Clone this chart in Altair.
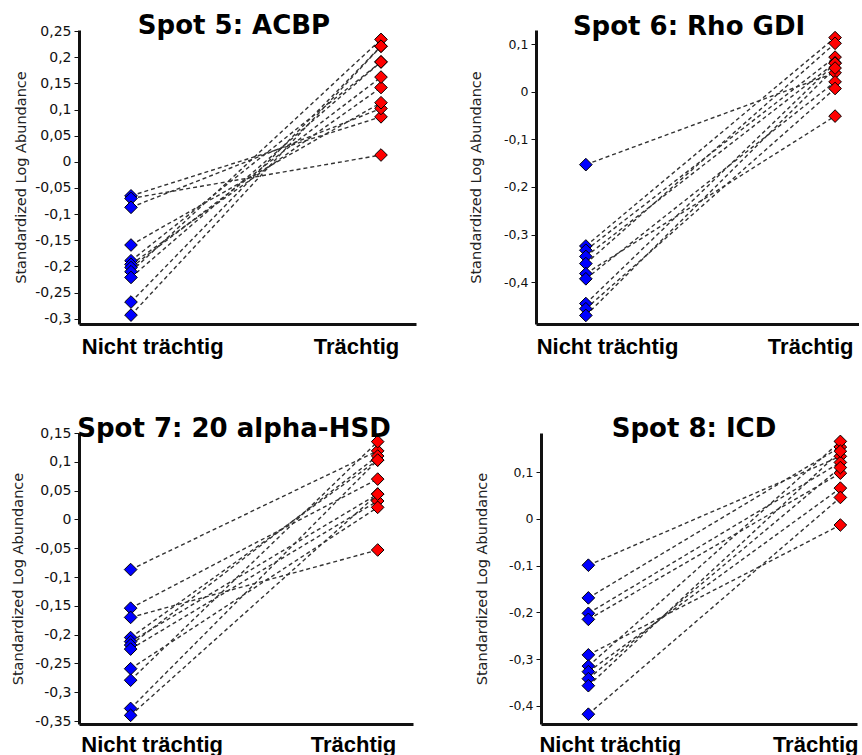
import altair as alt
import pandas as pd

# ---------------- data ----------------
groups = ["Nicht trächtig", "Trächtig"]
y_title = "Standardized Log Abundance"

title_5 = "Spot 5: ACBP"
spot5_nicht = [-0.065, -0.070, -0.087, -0.159, -0.189, -0.196, -0.202, -0.210, -0.221, -0.268, -0.293]
spot5_traechtig = [0.086, 0.013, 0.102, 0.113, 0.191, 0.142, 0.162, 0.234, 0.191, 0.221, 0.221]
ticks_5 = [-0.3, -0.25, -0.2, -0.15, -0.1, -0.05, 0, 0.05, 0.1, 0.15, 0.2, 0.25]

title_6 = "Spot 6: Rho GDI"
spot6_nicht = [-0.153, -0.324, -0.333, -0.346, -0.361, -0.382, -0.393, -0.445, -0.456, -0.470]
spot6_traechtig = [0.040, 0.114, 0.073, 0.061, 0.102, -0.051, 0.021, 0.060, 0.007, 0.050]
ticks_6 = [-0.4, -0.3, -0.2, -0.1, 0, 0.1]

title_7 = "Spot 7: 20 alpha-HSD"
spot7_nicht = [-0.087, -0.154, -0.170, -0.205, -0.212, -0.218, -0.225, -0.259, -0.279, -0.328, -0.340]
spot7_traechtig = [0.119, 0.070, -0.053, 0.103, 0.044, 0.110, 0.032, 0.021, 0.135, 0.103, 0.044]
ticks_7 = [-0.35, -0.3, -0.25, -0.2, -0.15, -0.1, -0.05, 0, 0.05, 0.1, 0.15]

title_8 = "Spot 8: ICD"
spot8_nicht = [-0.099, -0.169, -0.202, -0.215, -0.291, -0.315, -0.327, -0.342, -0.357, -0.418]
spot8_traechtig = [0.134, 0.154, 0.121, 0.098, -0.013, 0.166, 0.066, 0.110, 0.145, 0.046]
ticks_8 = [-0.4, -0.3, -0.2, -0.1, 0, 0.1]

group_colors = ["#0000FF", "#FF0000"]

# ---------------- helpers ----------------
Y_LABEL_EXPR = "replace(replace(format(datum.value, '.2~f'), '.', ','), '\u2212', '-')"
X_LABEL_EXPR = f"datum.value < 0.5 ? '{groups[0]}' : '{groups[1]}'"


def panel(title, nicht, traechtig, yticks, *, width, height, xdom, ydom,
          tick_font, title_x, title_cx, title_by, label_pad):
    rows = []
    for i, (a, b) in enumerate(zip(nicht, traechtig)):
        rows.append({"animal": i, "gx": 0, "group": groups[0], "value": a})
        rows.append({"animal": i, "gx": 1, "group": groups[1], "value": b})
    df = pd.DataFrame(rows)

    x = alt.X(
        "gx:Q",
        scale=alt.Scale(domain=xdom, nice=False, zero=False),
        axis=alt.Axis(
            values=[0.085, 0.9], labelExpr=X_LABEL_EXPR, title=None, grid=False,
            ticks=False, tickSize=0, domainWidth=3, domainColor="#111",
            labelFont="Liberation Sans", labelFontWeight="bold", labelFontSize=22,
            labelColor="#000", labelPadding=label_pad, labelOverlap=False,
            labelFlush=False,
        ),
    )
    y = alt.Y(
        "value:Q",
        scale=alt.Scale(domain=ydom, nice=False, zero=False),
        axis=alt.Axis(
            values=yticks, labelExpr=Y_LABEL_EXPR, title=y_title, grid=False,
            tickSize=5, tickColor="#111", tickWidth=1, domainWidth=3,
            domainColor="#111", labelFont="DejaVu Sans", labelFontSize=tick_font,
            labelColor="#111", labelPadding=3, labelOverlap=False, labelFlush=False,
            titleFont="DejaVu Sans", titleFontSize=14.5, titleFontWeight="normal",
            titleColor="#222", titleX=title_x, titleY=height / 2,
        ),
    )

    lines = alt.Chart(df).mark_line(
        strokeDash=[4, 3], strokeWidth=1.4, color="#333"
    ).encode(x=x, y=y, detail="animal:N", order="gx:Q")

    points = alt.Chart(df).mark_point(
        shape="diamond", filled=True, size=160, stroke="#000", strokeWidth=1, opacity=1
    ).encode(
        x=x, y=y,
        fill=alt.Fill("group:N", scale=alt.Scale(domain=groups, range=group_colors), legend=None),
    )

    ttl = alt.Chart(pd.DataFrame({"t": [title]})).mark_text(
        font="DejaVu Sans", fontWeight="bold", fontSize=26, align="center",
        baseline="alphabetic", color="#000",
    ).encode(text="t:N", x=alt.value(title_cx), y=alt.value(title_by))

    return alt.layer(lines, points, ttl).properties(width=width, height=height)


p5 = panel(title_5, spot5_nicht, spot5_traechtig, ticks_5, width=337, height=294,
           xdom=[-0.208, 1.14], ydom=[-0.31, 0.252], tick_font=14, title_x=-51,
           title_cx=155, title_by=4, label_pad=12)
p6 = panel(title_6, spot6_nicht, spot6_traechtig, ticks_6, width=323, height=294,
           xdom=[-0.2, 1.096], ydom=[-0.488, 0.13], tick_font=12.5, title_x=-53,
           title_cx=153, title_by=5, label_pad=12)
p7 = panel(title_7, spot7_nicht, spot7_traechtig, ticks_7, width=334, height=291,
           xdom=[-0.209, 1.143], ydom=[-0.355, 0.15], tick_font=14, title_x=-54,
           title_cx=155, title_by=4, label_pad=10)
p8 = panel(title_8, spot8_nicht, spot8_traechtig, ticks_8, width=316, height=291,
           xdom=[-0.188, 1.066], ydom=[-0.439, 0.184], tick_font=12.5, title_x=-52,
           title_cx=153, title_by=4, label_pad=10)

row1 = alt.hconcat(p5, p6, spacing=52)
row2 = alt.hconcat(p7, p8, spacing=61)

chart = alt.vconcat(row1, row2, spacing=59).properties(
    padding={"left": 10, "top": 13, "right": 0, "bottom": 0},
    background="white",
).configure_view(stroke=None)

chart.save("out.html", embed_options={"renderer": "svg", "actions": False})
